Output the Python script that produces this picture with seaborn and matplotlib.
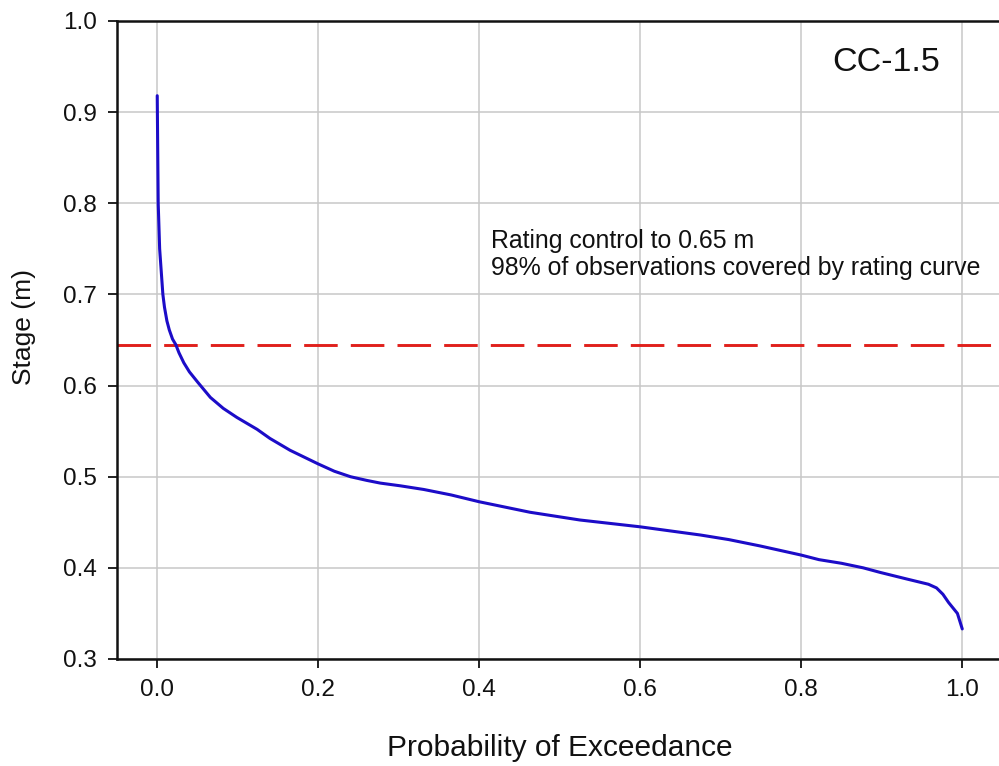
import matplotlib
matplotlib.use("Agg")
import matplotlib.pyplot as plt
import seaborn as sns
import pandas as pd

# Stage-duration curve for station CC-1.5
exceedance = [0.0, 0.0012, 0.003, 0.007, 0.009, 0.012, 0.015, 0.019, 0.023, 0.027,
              0.033, 0.040, 0.050, 0.066, 0.082, 0.099, 0.124, 0.140, 0.165, 0.200,
              0.220, 0.240, 0.260, 0.277, 0.302, 0.331, 0.365, 0.400, 0.463, 0.525,
              0.600, 0.650, 0.675, 0.710, 0.749, 0.800, 0.822, 0.850, 0.877, 0.898,
              0.930, 0.958, 0.968, 0.976, 0.983, 0.994, 1.0]
stage = [0.918, 0.800, 0.750, 0.700, 0.686, 0.671, 0.661, 0.651, 0.645, 0.636,
         0.625, 0.615, 0.604, 0.587, 0.575, 0.565, 0.552, 0.542, 0.529, 0.514,
         0.506, 0.500, 0.496, 0.493, 0.490, 0.486, 0.480, 0.4725, 0.461, 0.4525,
         0.445, 0.439, 0.436, 0.431, 0.424, 0.414, 0.409, 0.405, 0.400, 0.395,
         0.388, 0.382, 0.378, 0.371, 0.362, 0.350, 0.333]

rating_limit = 0.645
coverage_pct = 98
station = "CC-1.5"
x_ticks = [0.0, 0.2, 0.4, 0.6, 0.8, 1.0]
y_ticks = [0.3, 0.4, 0.5, 0.6, 0.7, 0.8, 0.9, 1.0]

df = pd.DataFrame({"exceedance": exceedance, "stage": stage})

sns.set_theme(style="whitegrid")
plt.rcParams["font.family"] = ["Liberation Sans", "DejaVu Sans"]

fig = plt.figure(figsize=(9.99, 7.66), dpi=100)
ax = fig.add_axes([0.1171, 0.1397, 0.8864, 0.8329])

ax.axhline(rating_limit, color="#e0201c", lw=2.1, dashes=(11.5, 4.5), zorder=2)
sns.lineplot(data=df, x="exceedance", y="stage", ax=ax, color="#1c0cc8",
             lw=2.2, sort=False, estimator=None, zorder=3)

ax.set_xlim(-0.05, 1.05)
ax.set_ylim(0.3, 1.0)
ax.set_xticks(x_ticks)
ax.set_yticks(y_ticks)
ax.set_xticklabels([f"{t:.1f}" for t in x_ticks])
ax.set_yticklabels([f"{t:.1f}" for t in y_ticks])

ax.grid(True, color="#c8c8c8", lw=1.1)
for side in ["left", "bottom", "top"]:
    ax.spines[side].set_visible(True)
    ax.spines[side].set_color("#111111")
    ax.spines[side].set_linewidth(1.8)
ax.spines["right"].set_visible(False)

ax.tick_params(axis="both", which="major", direction="out", length=6.5, width=1.3,
               color="#111111", labelsize=17.5, labelcolor="#111111", pad=8,
               left=True, bottom=True)

ax.set_xlabel("Probability of Exceedance", fontsize=21.5, color="#111111", labelpad=24)
ax.set_ylabel("Stage (m)", fontsize=19, color="#111111")
ax.yaxis.set_label_coords(-0.091, 0.52)

ax.text(0.906, 0.955, station, fontsize=24.5, color="#111111", ha="center", va="center")
ax.text(0.415, 0.744,
        f"Rating control to {rating_limit:.2f} m\n"
        f"{coverage_pct}% of observations covered by rating curve",
        fontsize=17.9, color="#111111", ha="left", va="center", linespacing=1.18)

fig.savefig("out.png", dpi=100, facecolor="white")
